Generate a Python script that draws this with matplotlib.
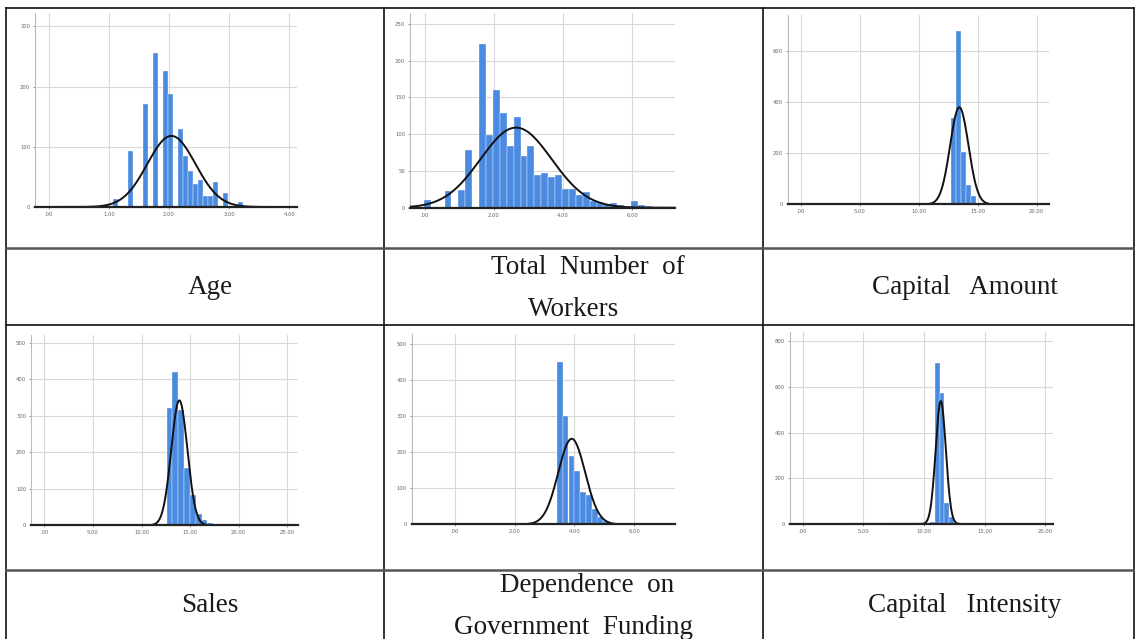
import numpy as np
import matplotlib
matplotlib.use("Agg")
import matplotlib.pyplot as plt

W, H = 1135, 639

# histogram bins: (bin centres, counts, bin width)
age_centers = [1.11, 1.36, 1.61, 1.78, 1.94, 2.03, 2.19, 2.28, 2.36, 2.44,
               2.53, 2.61, 2.69, 2.78, 2.94, 3.19, 3.61]
age_counts = [14, 93, 171, 256, 226, 187, 130, 84, 60, 38, 45, 18, 19, 42, 23, 8, 2]
age_width = 0.083

workers_centers = [0.07, 0.67, 1.07, 1.27, 1.67, 1.87, 2.07, 2.27, 2.47, 2.67,
                   2.87, 3.07, 3.27, 3.47, 3.67, 3.87, 4.07, 4.27, 4.47, 4.67,
                   4.87, 5.07, 5.27, 5.47, 5.67, 6.07, 6.27, 6.47]
workers_counts = [11, 23, 24, 78, 223, 99, 160, 129, 84, 123, 71, 84, 44, 47,
                  42, 45, 26, 26, 17, 21, 9, 8, 5, 6, 3, 9, 3, 2]
workers_width = 0.2

capital_centers = [12.52, 12.95, 13.38, 13.81, 14.24, 14.67, 17.05]
capital_counts = [4, 336, 678, 206, 75, 32, 3]
capital_width = 0.43

sales_centers = [12.88, 13.48, 14.08, 14.68, 15.28, 15.88, 16.48, 17.08]
sales_counts = [320, 420, 315, 158, 84, 30, 14, 7]
sales_width = 0.6

gov_centers = [3.51, 3.70, 3.90, 4.09, 4.29, 4.48, 4.68, 4.87, 5.07]
gov_counts = [450, 299, 189, 147, 90, 80, 41, 20, 8]
gov_width = 0.195

intensity_centers = [10.70, 11.09, 11.48, 11.87, 12.26]
intensity_counts = [8, 705, 573, 93, 30]
intensity_width = 0.39

# normal curve overlay: mean, sd, peak height
age_curve = (2.04, 0.40, 118)
workers_curve = (2.64, 1.03, 109)
capital_curve = (13.44, 0.78, 379)
sales_curve = (13.89, 0.83, 342)
gov_curve = (3.91, 0.45, 237)
intensity_curve = (11.38, 0.42, 538)

panel_titles = [["Age"], ["Total  Number  of", "Workers"], ["Capital   Amount"],
                ["Sales"], ["Dependence  on", "Government  Funding"], ["Capital   Intensity"]]

BLUE = "#4a8ae0"

fig = plt.figure(figsize=(W / 100, H / 100), dpi=100)


def px_axes(left, right, top, bottom):
    return fig.add_axes([left / W, 1 - bottom / H, (right - left) / W, (bottom - top) / H])


def fmt_x(v):
    s = f"{v:.2f}"
    return s[1:] if s.startswith("0") else s


def draw_hist(ax, centers, counts, width, curve, xlim, ylim, xticks, yticks):
    ax.bar(centers, counts, width=width, color=BLUE, edgecolor="white",
           linewidth=0.25, zorder=2)
    m, s, peak = curve
    xs = np.linspace(xlim[0], xlim[1], 400)
    ax.plot(xs, peak * np.exp(-0.5 * ((xs - m) / s) ** 2), color="#111111",
            lw=1.4, zorder=3)
    ax.set_xlim(*xlim)
    ax.set_ylim(*ylim)
    ax.set_xticks(xticks)
    ax.set_xticklabels([fmt_x(v) for v in xticks])
    ax.set_yticks(yticks)
    ax.set_yticklabels([str(v) for v in yticks])
    ax.grid(True, color="#d9d9d9", lw=0.8, zorder=0)
    ax.set_axisbelow(True)
    for side in ("top", "right"):
        ax.spines[side].set_visible(False)
    ax.spines["left"].set_color("#bbbbbb")
    ax.spines["left"].set_linewidth(0.8)
    ax.spines["bottom"].set_color("#222222")
    ax.spines["bottom"].set_linewidth(1.6)
    ax.spines["bottom"].set_zorder(4)
    ax.tick_params(labelsize=3.8, colors="#666666", length=1.5, width=0.5, pad=2)


ax = px_axes(35, 297, 13, 207)
draw_hist(ax, age_centers, age_counts, age_width, age_curve,
          (-0.23, 4.13), (0, 322), [0, 1, 2, 3, 4], [0, 100, 200, 300])

ax = px_axes(410, 675, 13, 207.7)
draw_hist(ax, workers_centers, workers_counts, workers_width, workers_curve,
          (-0.43, 7.24), (0, 265), [0, 2, 4, 6], [0, 50, 100, 150, 200, 250])

ax = px_axes(787.7, 1048.7, 15, 204.3)
draw_hist(ax, capital_centers, capital_counts, capital_width, capital_curve,
          (-1.13, 21.03), (0, 739), [0, 5, 10, 15, 20], [0, 200, 400, 600])

ax = px_axes(31, 297.7, 335.3, 525.3)
draw_hist(ax, sales_centers, sales_counts, sales_width, sales_curve,
          (-1.37, 26.07), (0, 520), [0, 5, 10, 15, 20, 25], [0, 100, 200, 300, 400, 500])

ax = px_axes(411.7, 675, 333.7, 524.3)
draw_hist(ax, gov_centers, gov_counts, gov_width, gov_curve,
          (-1.45, 7.37), (0, 528), [0, 2, 4, 6], [0, 100, 200, 300, 400, 500])

ax = px_axes(789.7, 1053, 332, 524)
draw_hist(ax, intensity_centers, intensity_counts, intensity_width, intensity_curve,
          (-1.07, 20.63), (0, 840), [0, 5, 10, 15, 20], [0, 200, 400, 600, 800])

# table frame and label cells, in pixel coordinates
tab = fig.add_axes([0, 0, 1, 1], zorder=5)
tab.set_xlim(0, W)
tab.set_ylim(H, 0)
tab.axis("off")
tab.patch.set_alpha(0)

col_x = [6, 384, 763, 1134]
row_y = [8, 248, 325, 570, 700]
for x in col_x:
    tab.plot([x, x], [row_y[0], H + 5], color="#111111", lw=1.2)
tab.plot([col_x[0], col_x[-1]], [row_y[0], row_y[0]], color="#111111", lw=1.2)
for y in (row_y[1], row_y[3]):
    tab.plot([col_x[0], col_x[-1]], [y, y], color="#555555", lw=1.8)
tab.plot([col_x[0], col_x[-1]], [row_y[2], row_y[2]], color="#111111", lw=1.2)

label_x = [[210], [588, 574], [965], [210], [587, 574], [965]]
label_y = [[287], [267, 309], [287], [606], [585, 627], [606]]
for lines, xs, ys in zip(panel_titles, label_x, label_y):
    for txt, x, y in zip(lines, xs, ys):
        tab.text(x, y, txt, ha="center", va="center", fontsize=19.5,
                 family="Liberation Serif", color="#1a1a1a")

fig.savefig("out.png", dpi=100)
